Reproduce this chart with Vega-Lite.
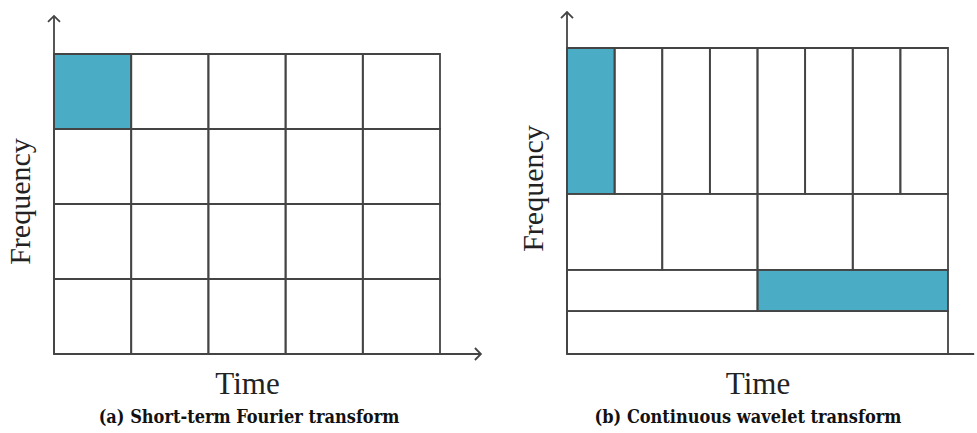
{
  "$schema": "https://vega.github.io/schema/vega-lite/v6.json",
  "background": "white",
  "padding": {"left": 5, "top": 8, "right": 0, "bottom": 0},
  "bounds": "flush",
  "spacing": 127,
  "config": {
    "view": {"stroke": null},
    "axis": {"domain": false, "ticks": false, "labels": false, "grid": false, "titleFont": "Liberation Serif", "titleFontSize": 31, "titleFontWeight": "normal", "titleColor": "#222"},
    "title": {"font": "DejaVu Serif Condensed", "fontSize": 18, "fontWeight": "bold", "color": "#111", "orient": "bottom", "frame": "group", "anchor": "middle"}
  },
  "hconcat": [
    {
      "width": 386,
      "height": 306,
      "title": {"text": "(a) Short-term Fourier transform", "font": "DejaVu Serif Condensed", "fontWeight": "bold", "fontSize": 18, "offset": 10, "dx": 2},
      "data": {"values": [
        {"t0": 0, "t1": 1, "f0": 3, "f1": 4, "selected": "yes"},
        {"t0": 1, "t1": 2, "f0": 3, "f1": 4, "selected": "no"},
        {"t0": 2, "t1": 3, "f0": 3, "f1": 4, "selected": "no"},
        {"t0": 3, "t1": 4, "f0": 3, "f1": 4, "selected": "no"},
        {"t0": 4, "t1": 5, "f0": 3, "f1": 4, "selected": "no"},
        {"t0": 0, "t1": 1, "f0": 2, "f1": 3, "selected": "no"},
        {"t0": 1, "t1": 2, "f0": 2, "f1": 3, "selected": "no"},
        {"t0": 2, "t1": 3, "f0": 2, "f1": 3, "selected": "no"},
        {"t0": 3, "t1": 4, "f0": 2, "f1": 3, "selected": "no"},
        {"t0": 4, "t1": 5, "f0": 2, "f1": 3, "selected": "no"},
        {"t0": 0, "t1": 1, "f0": 1, "f1": 2, "selected": "no"},
        {"t0": 1, "t1": 2, "f0": 1, "f1": 2, "selected": "no"},
        {"t0": 2, "t1": 3, "f0": 1, "f1": 2, "selected": "no"},
        {"t0": 3, "t1": 4, "f0": 1, "f1": 2, "selected": "no"},
        {"t0": 4, "t1": 5, "f0": 1, "f1": 2, "selected": "no"},
        {"t0": 0, "t1": 1, "f0": 0, "f1": 1, "selected": "no"},
        {"t0": 1, "t1": 2, "f0": 0, "f1": 1, "selected": "no"},
        {"t0": 2, "t1": 3, "f0": 0, "f1": 1, "selected": "no"},
        {"t0": 3, "t1": 4, "f0": 0, "f1": 1, "selected": "no"},
        {"t0": 4, "t1": 5, "f0": 0, "f1": 1, "selected": "no"}
      ]},
      "layer": [
        {
          "mark": {"type": "rect", "strokeWidth": 0},
          "encoding": {
            "x": {"field": "t0", "type": "quantitative", "scale": {"domain": [0, 5], "nice": false, "zero": false}, "axis": {"title": "Time", "titlePadding": 15}},
            "x2": {"field": "t1"},
            "y": {"field": "f0", "type": "quantitative", "scale": {"domain": [0, 4.08], "nice": false, "zero": false}, "axis": {"title": "Frequency", "titlePadding": 19, "titleFontSize": 30, "titleY": 153}},
            "y2": {"field": "f1"},
            "fill": {"field": "selected", "type": "nominal", "scale": {"domain": ["no", "yes"], "range": ["#ffffff", "#4BACC6"]}, "legend": null}
          }
        },
        {
          "mark": {"type": "rect", "filled": false, "stroke": "#444444", "strokeWidth": 1.8},
          "encoding": {
            "x": {"field": "t0", "type": "quantitative", "axis": {"title": "Time", "titlePadding": 15}},
            "x2": {"field": "t1"},
            "y": {"field": "f0", "type": "quantitative", "axis": {"title": "Frequency", "titlePadding": 19, "titleFontSize": 30, "titleY": 153}},
            "y2": {"field": "f1"}
          }
        },
        {
          "data": {"values": [
            {"axis": "Time", "t0": 0, "t1": 5.53, "f0": 0, "f1": 0},
            {"axis": "Frequency", "t0": 0, "t1": 0, "f0": 0, "f1": 4.507}
          ]},
          "layer": [
            {
              "mark": {"type": "rule", "stroke": "#444444", "strokeWidth": 1.8},
              "encoding": {
                "x": {"field": "t0", "type": "quantitative", "axis": {"title": "Time", "titlePadding": 15}},
                "x2": {"field": "t1"},
                "y": {"field": "f0", "type": "quantitative", "axis": {"title": "Frequency", "titlePadding": 19, "titleFontSize": 30, "titleY": 153}},
                "y2": {"field": "f1"}
              }
            },
            {
              "mark": {"type": "point", "shape": "M -1 1 L 0 0 L 1 1", "filled": false, "stroke": "#444444", "strokeWidth": 1.8, "size": 144, "opacity": 1},
              "encoding": {
                "x": {"field": "t1", "type": "quantitative", "axis": {"title": "Time", "titlePadding": 15}},
                "y": {"field": "f1", "type": "quantitative", "axis": {"title": "Frequency", "titlePadding": 19, "titleFontSize": 30, "titleY": 153}},
                "angle": {"field": "axis", "type": "nominal", "scale": {"domain": ["Time", "Frequency"], "range": [90, 0]}, "legend": null}
              }
            }
          ]
        }
      ]
    },
    {
      "width": 381,
      "height": 306,
      "title": {"text": "(b) Continuous wavelet transform", "font": "DejaVu Serif Condensed", "fontWeight": "bold", "fontSize": 18, "offset": 10, "dx": -9.5},
      "data": {"values": [
        {"t0": 0, "t1": 1, "f0": 0.523, "f1": 1, "selected": "yes"},
        {"t0": 1, "t1": 2, "f0": 0.523, "f1": 1, "selected": "no"},
        {"t0": 2, "t1": 3, "f0": 0.523, "f1": 1, "selected": "no"},
        {"t0": 3, "t1": 4, "f0": 0.523, "f1": 1, "selected": "no"},
        {"t0": 4, "t1": 5, "f0": 0.523, "f1": 1, "selected": "no"},
        {"t0": 5, "t1": 6, "f0": 0.523, "f1": 1, "selected": "no"},
        {"t0": 6, "t1": 7, "f0": 0.523, "f1": 1, "selected": "no"},
        {"t0": 7, "t1": 8, "f0": 0.523, "f1": 1, "selected": "no"},
        {"t0": 0, "t1": 2, "f0": 0.275, "f1": 0.523, "selected": "no"},
        {"t0": 2, "t1": 4, "f0": 0.275, "f1": 0.523, "selected": "no"},
        {"t0": 4, "t1": 6, "f0": 0.275, "f1": 0.523, "selected": "no"},
        {"t0": 6, "t1": 8, "f0": 0.275, "f1": 0.523, "selected": "no"},
        {"t0": 0, "t1": 4, "f0": 0.14, "f1": 0.275, "selected": "no"},
        {"t0": 4, "t1": 8, "f0": 0.14, "f1": 0.275, "selected": "yes"},
        {"t0": 0, "t1": 8, "f0": 0, "f1": 0.14, "selected": "no"}
      ]},
      "layer": [
        {
          "mark": {"type": "rect", "strokeWidth": 0},
          "encoding": {
            "x": {"field": "t0", "type": "quantitative", "scale": {"domain": [0, 8], "nice": false, "zero": false}, "axis": {"title": "Time", "titlePadding": 15}},
            "x2": {"field": "t1"},
            "y": {"field": "f0", "type": "quantitative", "scale": {"domain": [0, 1], "nice": false, "zero": false}, "axis": {"title": "Frequency", "titlePadding": 19, "titleFontSize": 30, "titleY": 140}},
            "y2": {"field": "f1"},
            "fill": {"field": "selected", "type": "nominal", "scale": {"domain": ["no", "yes"], "range": ["#ffffff", "#4BACC6"]}, "legend": null}
          }
        },
        {
          "mark": {"type": "rect", "filled": false, "stroke": "#444444", "strokeWidth": 1.8},
          "encoding": {
            "x": {"field": "t0", "type": "quantitative", "axis": {"title": "Time", "titlePadding": 15}},
            "x2": {"field": "t1"},
            "y": {"field": "f0", "type": "quantitative", "axis": {"title": "Frequency", "titlePadding": 19, "titleFontSize": 30, "titleY": 140}},
            "y2": {"field": "f1"}
          }
        },
        {
          "data": {"values": [
            {"axis": "Time", "t0": 0, "t1": 8.55, "f0": 0, "f1": 0},
            {"axis": "Frequency", "t0": 0, "t1": 0, "f0": 0, "f1": 1.1176}
          ]},
          "layer": [
            {
              "mark": {"type": "rule", "stroke": "#444444", "strokeWidth": 1.8},
              "encoding": {
                "x": {"field": "t0", "type": "quantitative", "axis": {"title": "Time", "titlePadding": 15}},
                "x2": {"field": "t1"},
                "y": {"field": "f0", "type": "quantitative", "axis": {"title": "Frequency", "titlePadding": 19, "titleFontSize": 30, "titleY": 140}},
                "y2": {"field": "f1"}
              }
            },
            {
              "transform": [{"filter": "datum.axis === 'Frequency'"}],
              "mark": {"type": "point", "shape": "M -1 1 L 0 0 L 1 1", "filled": false, "stroke": "#444444", "strokeWidth": 1.8, "size": 144, "opacity": 1},
              "encoding": {
                "x": {"field": "t1", "type": "quantitative", "axis": {"title": "Time", "titlePadding": 15}},
                "y": {"field": "f1", "type": "quantitative", "axis": {"title": "Frequency", "titlePadding": 19, "titleFontSize": 30, "titleY": 140}}
              }
            }
          ]
        }
      ]
    }
  ]
}
